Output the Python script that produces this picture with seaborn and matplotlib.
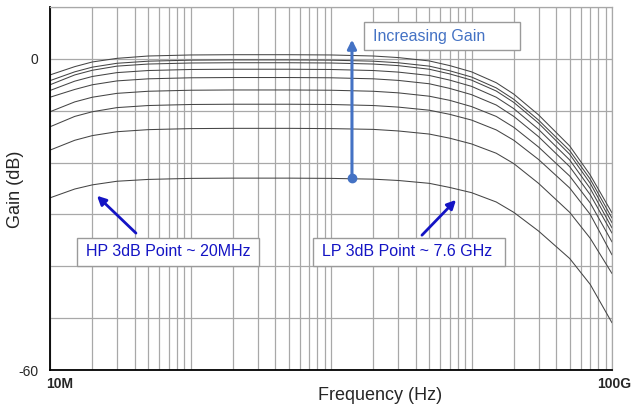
import numpy as np
import pandas as pd
import matplotlib.pyplot as plt
import seaborn as sns
from matplotlib.patches import Rectangle
from matplotlib.ticker import LogLocator, MultipleLocator, NullFormatter

freq = [1e7, 1.5e7, 2e7, 3e7, 5e7, 1e8, 2e8, 5e8, 1e9, 2e9, 3e9, 5e9, 7e9,
        1e10, 1.5e10, 2e10, 3e10, 5e10, 7e10, 1e11]

# Gain (dB) for each setting, highest gain first
gain_1 = [-3.1, -1.5, -0.6, 0.1, 0.55, 0.75, 0.8, 0.8, 0.75, 0.55, 0.25, -0.4, -1.3,
          -2.5, -4.6, -6.8, -10.8, -16.8, -22.4, -29.7]
gain_2 = [-4.2, -2.5, -1.6, -0.85, -0.45, -0.25, -0.2, -0.2, -0.25, -0.45, -0.75, -1.4, -2.3,
          -3.5, -5.6, -7.8, -11.8, -17.7, -23.2, -30.7]
gain_3 = [-5.0, -3.1, -2.2, -1.4, -1.0, -0.8, -0.75, -0.75, -0.8, -1.0, -1.3, -2.0, -2.9,
          -4.1, -6.2, -8.4, -12.4, -18.4, -24.0, -31.6]
gain_4 = [-6.1, -4.3, -3.4, -2.65, -2.25, -2.05, -2.0, -2.0, -2.05, -2.25, -2.55, -3.2, -4.1,
          -5.3, -7.4, -9.6, -13.6, -19.5, -25.0, -32.6]
gain_5 = [-7.4, -5.9, -5.0, -4.25, -3.85, -3.65, -3.6, -3.6, -3.65, -3.85, -4.15, -4.8, -5.7,
          -6.9, -8.9, -11.1, -15.0, -20.8, -26.2, -33.6]
gain_6 = [-10.2, -8.3, -7.4, -6.65, -6.25, -6.05, -6.0, -6.0, -6.05, -6.25, -6.55, -7.2, -8.0,
          -9.2, -11.1, -13.2, -17.0, -22.6, -27.8, -35.3]
gain_7 = [-13.1, -11.1, -10.2, -9.4, -9.0, -8.8, -8.75, -8.75, -8.8, -9.0, -9.3, -9.9, -10.7,
          -11.8, -13.7, -15.7, -19.4, -24.9, -30.0, -37.8]
gain_8 = [-17.6, -15.7, -14.8, -14.05, -13.65, -13.45, -13.4, -13.4, -13.45, -13.6, -13.9, -14.5, -15.3,
          -16.4, -18.2, -20.2, -24.0, -29.6, -34.6, -41.4]
gain_9 = [-26.8, -25.1, -24.3, -23.6, -23.25, -23.05, -23.0, -23.0, -23.05, -23.2, -23.45, -24.0, -24.8,
          -25.8, -27.6, -29.6, -33.2, -38.5, -43.5, -50.9]

curves = [gain_1, gain_2, gain_3, gain_4, gain_5, gain_6, gain_7, gain_8, gain_9]

frames = []
for i, g in enumerate(curves):
    frames.append(pd.DataFrame({'freq': freq, 'gain': g, 'curve': f'c{i + 1}'}))
df = pd.concat(frames, ignore_index=True)

sns.set_style('white')
plt.rcParams['font.family'] = ['Liberation Sans', 'DejaVu Sans']

W, H = 631, 407
fig = plt.figure(figsize=(W / 100, H / 100), dpi=100)
ax = fig.add_axes([50 / W, 37 / H, 562 / W, 363 / H])

sns.lineplot(data=df, x='freq', y='gain', hue='curve', palette=['#454545'] * len(curves),
             legend=False, linewidth=0.75, estimator=None, sort=False, ax=ax)

ax.set_xscale('log')
ax.set_xlim(1e7, 1e11)
ax.set_ylim(-60, 10)

# grid like the simulator plot
ax.xaxis.set_major_locator(LogLocator(base=10, numticks=10))
ax.xaxis.set_minor_locator(LogLocator(base=10, subs=np.arange(2, 10), numticks=50))
ax.xaxis.set_minor_formatter(NullFormatter())
ax.set_yticks(np.arange(-60, 11, 10))
ax.set_yticklabels(['-60', '', '', '', '', '', '0', ''])
ax.yaxis.set_minor_locator(MultipleLocator(1))
ax.grid(which='major', axis='both', color='#a8a8a8', linewidth=0.9)
ax.grid(which='minor', axis='x', color='#a8a8a8', linewidth=0.9)
ax.set_axisbelow(True)

ax.tick_params(axis='x', which='both', direction='in', length=3, labelbottom=False, color='#555555')
ax.tick_params(axis='y', which='major', direction='in', length=4, pad=8.5, labelsize=10)
ax.tick_params(axis='y', which='minor', direction='in', length=2.5, color='#555555')

for side in ['left', 'bottom']:
    ax.spines[side].set_color('black')
    ax.spines[side].set_linewidth(1.3)
for side in ['top', 'right']:
    ax.spines[side].set_color('#a8a8a8')
    ax.spines[side].set_linewidth(0.9)

ax.set_xlabel('')
ax.set_ylabel('')

# axis titles and end labels
fig.text(380 / W, 1 - 395 / H, 'Frequency (Hz)', ha='center', va='center', fontsize=13)
fig.text(16 / W, 1 - 189 / H, 'Gain (dB)', ha='center', va='center', rotation=90, fontsize=13)
fig.text(60 / W, 1 - 384 / H, '10M', ha='center', va='center', fontsize=10, fontweight='bold')
fig.text(614 / W, 1 - 384 / H, '100G', ha='center', va='center', fontsize=10, fontweight='bold')

# "Increasing Gain" arrow
gain_blue = '#4472c4'
ax.annotate('', xy=(1.41e9, 3.7), xytext=(1.41e9, -23.0),
            arrowprops=dict(arrowstyle='-|>', color=gain_blue, lw=2.2, mutation_scale=13,
                            shrinkA=0, shrinkB=0))
ax.plot([1.41e9], [-23.0], 'o', color=gain_blue, markersize=6)

# 3dB point arrows
dark_blue = '#1414c4'
ax.annotate('', xy=(2.16e7, -26.4), xytext=(4.09e7, -33.6),
            arrowprops=dict(arrowstyle='-|>', color=dark_blue, lw=2.0, mutation_scale=13,
                            shrinkA=0, shrinkB=0))
ax.annotate('', xy=(7.76e9, -27.2), xytext=(4.44e9, -34.0),
            arrowprops=dict(arrowstyle='-|>', color=dark_blue, lw=2.0, mutation_scale=13,
                            shrinkA=0, shrinkB=0))


def box(x0, y0, x1, y1):
    fig.patches.append(Rectangle((x0 / W, 1 - y1 / H), (x1 - x0) / W, (y1 - y0) / H,
                                 transform=fig.transFigure, facecolor='white',
                                 edgecolor='#9a9a9a', linewidth=1.0, zorder=5))


box(364, 22, 520, 50)
fig.text(373 / W, 1 - 36 / H, 'Increasing Gain', ha='left', va='center', fontsize=11.5,
         color=gain_blue, zorder=6)
box(77, 238, 259, 266)
fig.text(168 / W, 1 - 252 / H, 'HP 3dB Point ~ 20MHz', ha='center', va='center', fontsize=11.5,
         color=dark_blue, zorder=6)
box(313, 238, 505, 266)
fig.text(407 / W, 1 - 252 / H, 'LP 3dB Point ~ 7.6 GHz', ha='center', va='center', fontsize=11.5,
         color=dark_blue, zorder=6)

fig.savefig('out.png', dpi=100)
